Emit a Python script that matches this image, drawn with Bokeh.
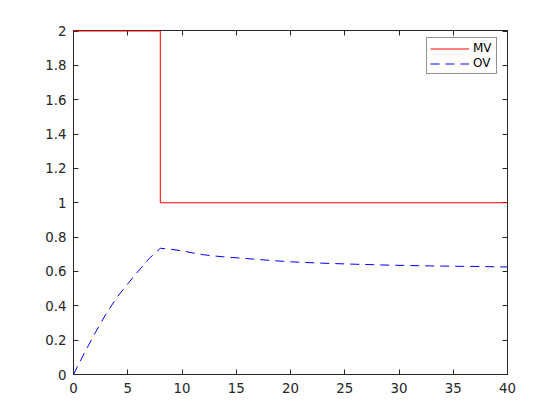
from bokeh.plotting import figure
from bokeh.models import LinearAxis, Range1d, FixedTicker, Legend, LegendItem
from bokeh.embed import file_html
from bokeh.resources import INLINE

# MV step input
mv_t = [0, 8, 8, 40]
mv_y = [2, 2, 1, 1]

# OV response
ov_t = [0, 1, 2, 3, 4, 5, 6, 7, 8, 9, 10, 11, 12, 13, 14, 16, 18, 20, 23, 26, 29, 33, 37, 40]
ov_y = [0, 0.125, 0.243, 0.353, 0.449, 0.528, 0.604, 0.677, 0.735, 0.729, 0.72, 0.708,
        0.697, 0.69, 0.684, 0.675, 0.665, 0.656, 0.648, 0.642, 0.637, 0.632, 0.629, 0.626]

x_ticks = [0, 5, 10, 15, 20, 25, 30, 35, 40]
y_ticks = [0, 0.2, 0.4, 0.6, 0.8, 1, 1.2, 1.4, 1.6, 1.8, 2]

FONT = "DejaVu Sans"
AX = "#262626"

p = figure(width=552, height=412, output_backend="svg", toolbar_location=None,
           x_range=Range1d(0, 40), y_range=Range1d(0, 2.003),
           min_border_left=73, min_border_right=45, min_border_top=30, min_border_bottom=38)
p.grid.visible = False
p.outline_line_color = None
p.background_fill_color = "white"
p.border_fill_color = "white"

r_mv = p.line(mv_t, mv_y, line_color="red", line_width=1, level="overlay")
r_ov = p.line(ov_t, ov_y, line_color="blue", line_width=1, line_dash="9 6", level="overlay")

def style(ax, ticks, labels=True):
    ax.ticker = FixedTicker(ticks=ticks)
    ax.major_tick_in = 5
    ax.major_tick_out = 0
    ax.minor_tick_line_color = None
    ax.axis_line_color = AX
    ax.major_tick_line_color = AX
    ax.major_label_text_font = FONT
    ax.major_label_text_font_size = "10pt"
    ax.major_label_text_color = AX
    if not labels:
        ax.major_label_overrides = {t: "" for t in ticks}
        ax.major_label_standoff = 0

style(p.xaxis[0], x_ticks)
style(p.yaxis[0], y_ticks)
p.xaxis[0].major_label_standoff = 8
p.yaxis[0].major_label_standoff = 7

top = LinearAxis()
style(top, x_ticks, labels=False)
p.add_layout(top, "above")
right = LinearAxis()
style(right, y_ticks, labels=False)
p.add_layout(right, "right")

legend = Legend(items=[LegendItem(label="MV", renderers=[r_mv]),
                       LegendItem(label="OV", renderers=[r_ov])],
                location=(353, 300))
legend.border_line_color = AX
legend.border_line_width = 1
legend.label_text_font = FONT
legend.label_text_font_size = "9pt"
legend.label_text_color = "black"
legend.glyph_width = 39
legend.glyph_height = 13
legend.label_standoff = 4
legend.label_width = 20
legend.spacing = 1
legend.padding = 3
legend.margin = 0
legend.label_height = 13
p.add_layout(legend)

open("out.html", "w").write(file_html(p, INLINE))
